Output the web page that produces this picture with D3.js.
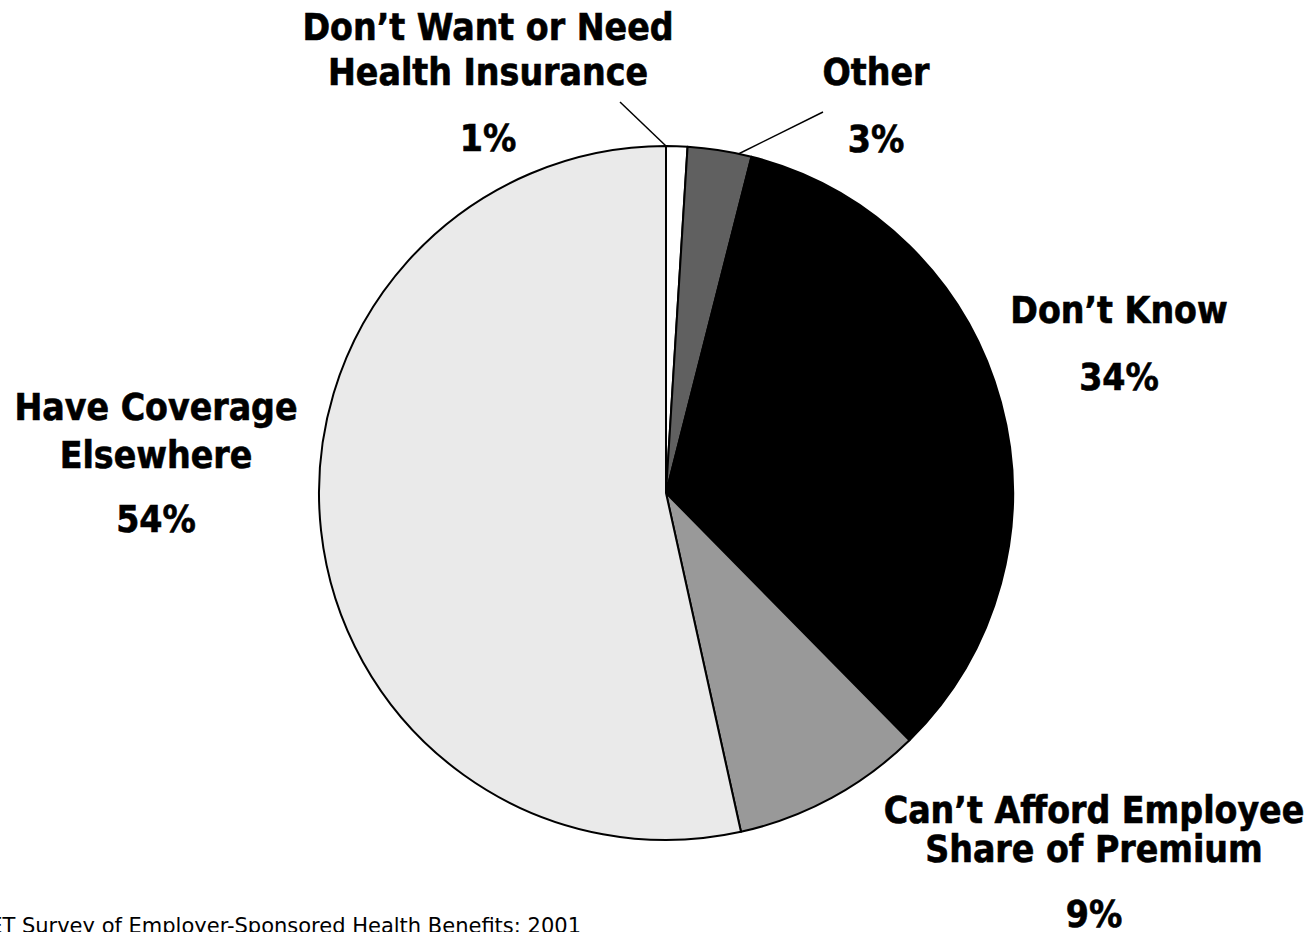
<!DOCTYPE html>
<html>
<head>
<meta charset="utf-8">
<script src="https://cdn.jsdelivr.net/npm/d3@7"></script>
<style>
  body { margin: 0; background: #fff; overflow: hidden; }
  svg { display: block; }
  .lbl { font-family: "DejaVu Sans Condensed", "DejaVu Sans", sans-serif; font-weight: bold; font-size: 37px; fill: #000; stroke: #000; stroke-width: 0.6px; }
  .note { font-family: "DejaVu Sans", sans-serif; font-size: 21px; fill: #000; }
</style>
</head>
<body>
<div id="chart"></div>
<script>
// data, clockwise from 12 o'clock
const categories = ["Don\u2019t Want or Need Health Insurance", "Other", "Don\u2019t Know",
  "Can\u2019t Afford Employee Share of Premium", "Have Coverage Elsewhere"];
const values = [1, 3, 34, 9, 54];
const labelLines = [
  ["Don\u2019t Want or Need", "Health Insurance"],
  ["Other"],
  ["Don\u2019t Know"],
  ["Can\u2019t Afford Employee", "Share of Premium"],
  ["Have Coverage", "Elsewhere"]
];
const colors = ["#ffffff", "#606060", "#000000", "#999999", "#eaeaea"];
const source = "Source: Kaiser/HRET Survey of Employer-Sponsored Health Benefits: 2001";

const width = 1310, height = 932;
const cx = 666, cy = 493, radius = 347;

// label layout: center x, first baseline, line step, percent baseline
const labelPos = [
  {x: 488, y: 40, step: 45, pct: 151},
  {x: 876, y: 85, step: 45, pct: 152},
  {x: 1119, y: 323, step: 45, pct: 390},
  {x: 1094, y: 823, step: 39, pct: 927},
  {x: 156, y: 420, step: 48, pct: 532}
];

const svg = d3.select("#chart").append("svg")
  .attr("width", width)
  .attr("height", height);

const g = svg.append("g")
  .attr("transform", `translate(${cx},${cy})`);

const pie = d3.pie().sort(null).value(d => d);
const arcs = pie(values);
const arc = d3.arc().innerRadius(0).outerRadius(radius);

g.selectAll("path.slice")
  .data(arcs)
  .enter().append("path")
  .attr("class", "slice")
  .attr("d", arc)
  .attr("fill", (d, i) => colors[i])
  .attr("stroke", "#000")
  .attr("stroke-width", 2)
  .attr("stroke-linejoin", "round");

// leader lines for the two small slices
const leaders = [
  {i: 0, at: d => d.startAngle, to: [620, 102]},
  {i: 1, at: d => d.startAngle * 0.2 + d.endAngle * 0.8, to: [823, 112]}
];
leaders.forEach(l => {
  const a = l.at(arcs[l.i]);
  svg.append("line")
    .attr("x1", cx + radius * Math.sin(a))
    .attr("y1", cy - radius * Math.cos(a))
    .attr("x2", l.to[0])
    .attr("y2", l.to[1])
    .attr("stroke", "#000")
    .attr("stroke-width", 1.5);
});

labelLines.forEach((lines, i) => {
  const p = labelPos[i];
  const t = svg.append("text")
    .attr("class", "lbl")
    .attr("text-anchor", "middle");
  lines.forEach((s, j) => {
    t.append("tspan").attr("x", p.x).attr("y", p.y + j * p.step).text(s);
  });
  svg.append("text")
    .attr("class", "lbl")
    .attr("text-anchor", "middle")
    .attr("x", p.x)
    .attr("y", p.pct)
    .text(values[i] + "%");
});

svg.append("text")
  .attr("class", "note")
  .attr("text-anchor", "end")
  .attr("x", 581)
  .attr("y", 933)
  .text(source);
</script>
</body>
</html>
